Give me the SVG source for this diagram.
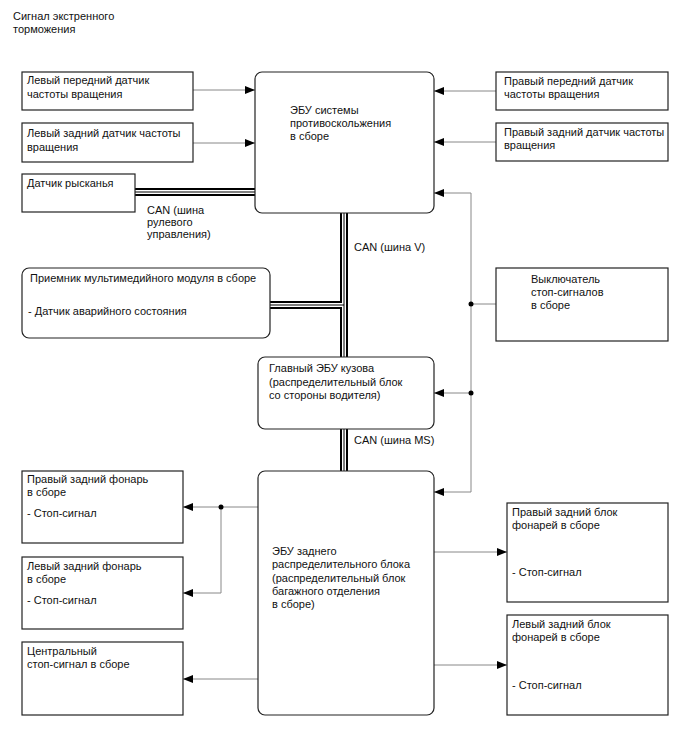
<svg xmlns="http://www.w3.org/2000/svg" width="688" height="755" viewBox="0 0 688 755">
<style>
text{font-family:"Liberation Sans",Arial,sans-serif;font-size:11px;fill:#111}
.box{fill:#fff;stroke:#222;stroke-width:1.2}
.ln{fill:none;stroke:#888;stroke-width:1}
.busA{fill:none;stroke:#000;stroke-width:8}
.busB{fill:none;stroke:#fff;stroke-width:4}
.busC{fill:none;stroke:#000;stroke-width:1}
</style>
<defs>
<marker id="ah" viewBox="0 0 10 8" refX="10" refY="4" markerWidth="10" markerHeight="8" markerUnits="userSpaceOnUse" orient="auto">
<path d="M0,0L10,4L0,8z" fill="#000"/>
</marker>
</defs>
<rect width="688" height="755" fill="#fff"/>
<text x="13" y="20">Сигнал экстренного</text>
<text x="13" y="33">торможения</text>

<g id="connectors">
<path class="busA" d="M135,192H256M344,213V472M270,305H344"/>
<path class="busB" d="M135,192H256M344,213V472M270,305H344"/>
<path class="busC" d="M135,192H256M344,213V472M270,305H344"/>
<path class="ln" d="M193,90H255" marker-end="url(#ah)"/>
<path class="ln" d="M193,143H255" marker-end="url(#ah)"/>
<path class="ln" d="M496,91H434" marker-end="url(#ah)"/>
<path class="ln" d="M496,142H434" marker-end="url(#ah)"/>
<path class="ln" d="M471,492V193H434" marker-end="url(#ah)"/>
<path class="ln" d="M471,492H434" marker-end="url(#ah)"/>
<path class="ln" d="M496,304H471"/>
<path class="ln" d="M471,393H434" marker-end="url(#ah)"/>
<circle cx="471" cy="304" r="2.5" fill="#000"/>
<circle cx="471" cy="393" r="2.5" fill="#000"/>
<path class="ln" d="M258,507H183" marker-end="url(#ah)"/>
<path class="ln" d="M221,507V593H183" marker-end="url(#ah)"/>
<circle cx="221" cy="507" r="2.5" fill="#000"/>
<path class="ln" d="M258,679H183" marker-end="url(#ah)"/>
<path class="ln" stroke="#444" d="M434,552H507" marker-end="url(#ah)"/>
<path class="ln" stroke="#444" d="M434,665H507" marker-end="url(#ah)"/>
<text x="147" y="214">CAN (шина</text>
<text x="147" y="226">рулевого</text>
<text x="147" y="238">управления)</text>
<text x="354" y="251">CAN (шина V)</text>
<text x="354" y="444">CAN (шина MS)</text>
</g>

<g id="lf-sensor">
<rect class="box" x="22" y="72" width="171" height="38"/>
<text x="27" y="84">Левый передний датчик</text>
<text x="27" y="98">частоты вращения</text>
</g>
<g id="lr-sensor">
<rect class="box" x="22" y="123" width="171" height="39"/>
<text x="27" y="137">Левый задний датчик частоты</text>
<text x="27" y="151">вращения</text>
</g>
<g id="yaw-sensor">
<rect class="box" x="22" y="174" width="113" height="38"/>
<text x="27" y="187">Датчик рысканья</text>
</g>
<g id="abs-ecu">
<rect class="box" x="255" y="72" width="179" height="141" rx="7"/>
<text x="290" y="114">ЭБУ системы</text>
<text x="290" y="127">противоскольжения</text>
<text x="290" y="140">в сборе</text>
</g>
<g id="rf-sensor">
<rect class="box" x="496" y="72" width="172" height="38"/>
<text x="504" y="85">Правый передний датчик</text>
<text x="504" y="98">частоты вращения</text>
</g>
<g id="rr-sensor">
<rect class="box" x="496" y="123" width="172" height="38"/>
<text x="504" y="136">Правый задний датчик частоты</text>
<text x="504" y="149">вращения</text>
</g>
<g id="multimedia">
<rect class="box" x="22" y="268" width="248" height="70" rx="7"/>
<text x="30" y="282">Приемник мультимедийного модуля в сборе</text>
<text x="28" y="315">- Датчик аварийного состояния</text>
</g>
<g id="stop-switch">
<rect class="box" x="496" y="268" width="172" height="73"/>
<text x="531" y="283">Выключатель</text>
<text x="531" y="296">стоп-сигналов</text>
<text x="531" y="309">в сборе</text>
</g>
<g id="body-ecu">
<rect class="box" x="258" y="357" width="176" height="72" rx="7"/>
<text x="269" y="372">Главный ЭБУ кузова</text>
<text x="269" y="386">(распределительный блок</text>
<text x="269" y="399">со стороны водителя)</text>
</g>
<g id="rear-ecu">
<rect class="box" x="258" y="471" width="176" height="244" rx="7"/>
<text x="272" y="555">ЭБУ заднего</text>
<text x="272" y="568">распределительного блока</text>
<text x="272" y="582">(распределительный блок</text>
<text x="272" y="595">багажного отделения</text>
<text x="272" y="608">в сборе)</text>
</g>
<g id="rr-lamp">
<rect class="box" x="22" y="471" width="161" height="72"/>
<text x="27" y="483">Правый задний фонарь</text>
<text x="27" y="496">в сборе</text>
<text x="27" y="517">- Стоп-сигнал</text>
</g>
<g id="lr-lamp">
<rect class="box" x="22" y="557" width="161" height="72"/>
<text x="27" y="570">Левый задний фонарь</text>
<text x="27" y="583">в сборе</text>
<text x="27" y="604">- Стоп-сигнал</text>
</g>
<g id="center-stop">
<rect class="box" x="22" y="642" width="161" height="73"/>
<text x="27" y="655">Центральный</text>
<text x="27" y="668">стоп-сигнал в сборе</text>
</g>
<g id="rr-cluster">
<rect class="box" x="507" y="503" width="161" height="99"/>
<text x="512" y="516">Правый задний блок</text>
<text x="512" y="529">фонарей в сборе</text>
<text x="512" y="576">- Стоп-сигнал</text>
</g>
<g id="lr-cluster">
<rect class="box" x="507" y="615" width="161" height="100"/>
<text x="512" y="628">Левый задний блок</text>
<text x="512" y="641">фонарей в сборе</text>
<text x="512" y="689">- Стоп-сигнал</text>
</g>
</svg>
